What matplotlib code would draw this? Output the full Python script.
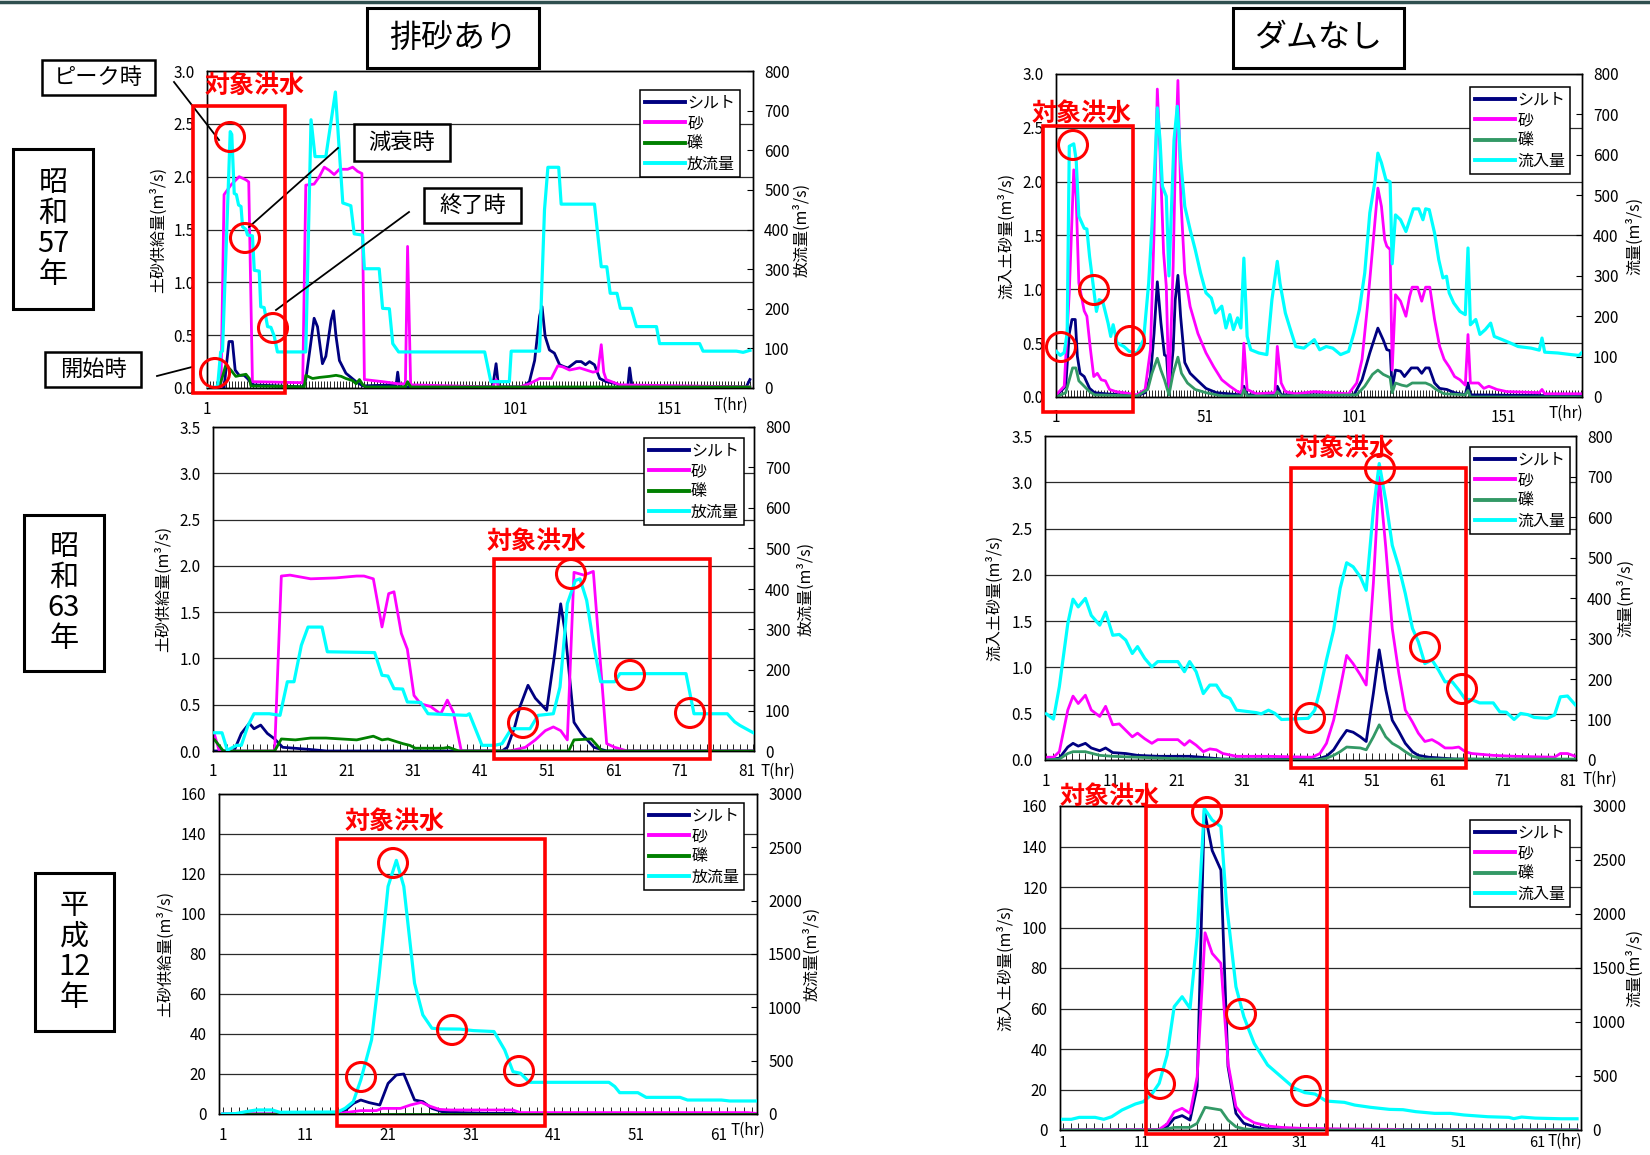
import matplotlib
matplotlib.use('Agg')
import matplotlib.pyplot as plt
from matplotlib.patches import Rectangle, Ellipse
from matplotlib.lines import Line2D
import numpy as np

plt.rcParams['font.family'] = ['Noto Sans CJK JP', 'DejaVu Sans']

# ---- data: (hour, value) pairs ----
# 昭和57年 排砂あり
TL_SILT = [(1,0),(6.5,0),(7.1,0.17),(8.1,0.44),(9.2,0.44),(10.1,0.17),(11.4,0.12),(13,0.12),(14.1,0.09),(15.7,0.03),
           (32,0.01),(33,0.08),(34.5,0.4),(35.7,0.66),(36.8,0.58),(38.4,0.23),(39.5,0.3),(41.2,0.64),(42,0.73),(42.8,0.49),
           (43.9,0.26),(46,0.14),(49.3,0.06),(51.5,0.02),(62.3,0.03),(62.8,0.15),(63.4,0.01),(93.6,0.01),(94.7,0.23),(95.5,0.01),
           (103.4,0.01),(105.5,0.06),(107.2,0.26),(108.8,0.68),(109.6,0.77),(110.6,0.49),(112,0.36),(113.6,0.33),(115.3,0.22),
           (116.9,0.2),(118,0.19),(120.7,0.25),(122.3,0.25),(123.7,0.22),(125,0.25),(126.6,0.22),(128.3,0.09),(130.4,0.06),
           (133.7,0.04),(135.3,0.01),(137.4,0.01),(138,0.19),(138.8,0.01),(175.8,0.01),(177,0.08)]
TL_SAND = [(1,0),(5.5,0),(6.5,1.83),(8.7,1.92),(11.4,2.0),(13.6,1.97),(14.5,1.95),(15.7,0.06),(32,0.05),(33,1.92),
           (35.7,1.93),(37.4,2.0),(39,2.09),(40.6,2.06),(42.2,2.02),(43.9,2.07),(46.6,2.07),(48.2,2.09),(49.8,2.05),(51.2,2.03),
           (52,0.08),(57.9,0.06),(63,0.04),(65.3,0.04),(66,1.34),(67,0.03),(93.6,0.01),(94.7,0.08),(95.5,0.01),(102.3,0.01),
           (105.5,0.04),(108.8,0.09),(112.6,0.09),(114.7,0.21),(116.3,0.2),(118.5,0.17),(121.8,0.19),(126.1,0.15),(127.7,0.16),
           (128.8,0.41),(129.6,0.15),(130.4,0.08),(134.8,0.03),(177,0.01)]
TL_GRAVEL = [(1,0),(4.9,0),(7.1,0.22),(8.7,0.17),(10.3,0.11),(11.9,0.12),(13.6,0.13),(14.7,0.09),(15.2,0.02),(32.5,0.01),
             (33,0.12),(35.2,0.09),(37.4,0.1),(40.6,0.11),(42.8,0.12),(44.5,0.11),(46,0.09),(48.2,0.07),(49.3,0.04),(50.4,0.08),
             (51.5,0.03),(52.5,0.01),(65.3,0.01),(66,0.06),(67,0.01),(177,0.01)]
TL_FLOW = [(1,0),(4.4,3),(5.4,91),(6,93),(8.5,647),(9,640),(9.8,491),(10.5,488),(11.2,462),(12,458),(12.5,407),(13.6,400),
           (14.1,386),(15.7,384),(16.3,297),(17.9,295),(18.4,205),(19.5,203),(20.6,155),(21.7,153),(22.8,130),(23.8,91),(33,91),
           (34.7,677),(36,584),(39.5,584),(42.6,747),(45,467),(47.6,460),(48.7,389),(51.4,386),(52,301),(56.8,301),(57.9,201),
           (60.1,200),(61.2,112),(63.1,91),(91,91),(93,16),(99,16),(99.6,93),(108.8,93),(110.4,450),(111.5,557),(115,557),
           (115.8,464),(126.6,464),(128.8,306),(130.6,306),(131.7,239),(133.9,239),(135,201),(138.5,201),(140.2,155),(146.7,155),
           (147.7,112),(160.7,112),(161.8,93),(172.6,93),(174.8,90),(177,95)]

# 昭和57年 ダムなし
TR_SILT = [(1,0.01),(4.2,0.1),(5.4,0.59),(6.3,0.72),(7.4,0.72),(8.1,0.38),(9,0.22),(10.4,0.19),(12.2,0.08),(13.9,0.04),
           (17.5,0.03),(28.1,0.01),(30.8,0.04),(32.6,0.19),(33.8,0.59),(34.9,1.07),(36.1,0.69),(37.3,0.39),(38,0.38),(38.8,0.04),
           (40.2,0.44),(40.9,0.9),(41.8,1.13),(42.7,0.75),(44.1,0.32),(45.9,0.22),(48.5,0.15),(51.2,0.08),(54.7,0.04),(62.6,0.02),
           (63.9,0.1),(65,0.02),(74.3,0.02),(75.1,0.1),(76.4,0.02),(100.8,0.02),(103.5,0.16),(106.1,0.41),(108.8,0.64),
           (110.6,0.53),(111.8,0.44),(112.9,0.43),(113.6,0.08),(114.7,0.25),(116.4,0.24),(117.7,0.19),(120,0.27),(122.1,0.27),
           (123.5,0.22),(124.8,0.27),(126,0.27),(127.8,0.13),(129.5,0.08),(131.9,0.07),(134.5,0.04),(138.1,0.02),(139,0.13),
           (139.8,0.02),(177,0.01)]
TR_SAND = [(1,0.02),(3.7,0.1),(5.4,0.97),(6.9,2.11),(7.7,1.86),(8.6,1.06),(10.4,0.8),(11.3,0.75),(12.5,0.44),(13.6,0.19),
           (14.8,0.22),(16.1,0.16),(17.5,0.15),(18.9,0.07),(21,0.05),(23.7,0.04),(28.1,0.02),(30.8,0.07),(32.6,0.44),(33.8,1.52),
           (34.9,2.86),(35.8,2.27),(37,1.34),(37.9,1.03),(38.8,0.04),(40.2,1.21),(40.9,2.14),(41.8,2.94),(42.8,1.83),(44.1,1.15),
           (45.9,0.84),(48.5,0.59),(51.2,0.41),(53.8,0.28),(56.5,0.16),(59.2,0.1),(61.8,0.05),(63.2,0.04),(63.9,0.5),(65,0.07),
           (68,0.03),(74.3,0.04),(75.1,0.47),(76.4,0.13),(77.8,0.05),(81.3,0.03),(87.5,0.05),(99,0.03),(101.7,0.13),(103.5,0.35),
           (105.3,0.84),(107,1.37),(108.8,1.94),(110,1.77),(111.1,1.46),(111.8,1.4),(112.9,1.37),(113.6,0.25),(114.7,0.95),
           (116.4,0.89),(118.2,0.75),(119.4,0.93),(120.3,1.02),(122.1,1.02),(123.5,0.89),(124.8,1.02),(126.2,1.02),(127.8,0.72),
           (129.5,0.47),(131,0.35),(132.7,0.28),(134.5,0.19),(136.3,0.16),(138.1,0.11),(139,0.58),(139.8,0.13),(142.5,0.13),
           (144.3,0.08),(146,0.1),(148.7,0.07),(152,0.05),(162.9,0.04),(163.8,0.07),(164.7,0.03),(177,0.03)]
TR_GRAVEL = [(1,0),(4.2,0.04),(5.4,0.16),(6.5,0.27),(7.6,0.27),(8.6,0.15),(10.4,0.1),(12.2,0.05),(13.9,0.02),(28.1,0.01),
             (31.7,0.07),(33.1,0.22),(34.9,0.36),(36.1,0.25),(37.3,0.16),(38.8,0.02),(40.2,0.22),(41.8,0.37),(43,0.22),(45,0.13),
             (47.6,0.07),(51.2,0.04),(56.5,0.01),(63.2,0.01),(63.9,0.07),(65,0.01),(74.3,0.01),(75.1,0.05),(76.4,0.01),
             (101.7,0.02),(104.4,0.1),(107,0.21),(108.8,0.25),(110.6,0.21),(112.9,0.18),(113.6,0.04),(114.7,0.13),(116.8,0.11),
             (118.5,0.1),(120.3,0.13),(122.9,0.13),(124.8,0.13),(126.5,0.11),(128.3,0.07),(131,0.03),(138.1,0.02),(139,0.06),
             (139.8,0),(177,0)]
TR_FLOW = [(1,113),(2.4,103),(3.7,110),(4.7,159),(5.4,621),(6.9,627),(7.7,588),(8.6,448),(10.4,418),(11.3,416),(12.2,348),
           (13.6,266),(14.5,212),(15.4,241),(16.6,237),(18.4,183),(19.3,150),(20.1,179),(21.4,134),(23.7,125),(25.5,113),
           (28.1,109),(30.3,142),(32,282),(33.1,423),(34.2,596),(34.9,716),(35.8,637),(36.6,522),(37.9,497),(38.8,300),
           (40.5,637),(41.6,720),(42.7,588),(44.1,472),(45.9,414),(47.6,365),(49.4,307),(51.2,258),(53,245),(54.4,208),
           (56.5,225),(57.9,171),(59.2,204),(60.4,167),(61.8,196),(62.9,171),(63.9,344),(65,150),(66.2,117),(68.9,109),
           (71.6,105),(73.3,241),(75.1,336),(76,282),(77.8,208),(79.5,167),(81.3,125),(84,121),(87.5,142),(89.3,117),
           (91.5,125),(93.7,121),(96.3,105),(99,113),(100.8,159),(102.6,216),(104.4,307),(106.1,456),(107.9,538),(108.8,604),
           (110,580),(111.5,538),(112.9,533),(113.6,330),(114.7,451),(116.4,439),(118.2,410),(119.4,437),(120.7,466),
           (122.5,466),(123.9,439),(124.8,466),(126,464),(127.8,406),(129.2,340),(130.6,295),(131.8,299),(132.7,258),
           (134.2,233),(136.3,212),(138.1,204),(139,369),(139.8,179),(141.6,192),(143,155),(144.8,167),(146.6,183),
           (147.8,150),(150.5,142),(153.1,134),(155.8,125),(160.2,121),(162.9,116),(163.8,146),(164.7,111),(169.1,109),
           (173.5,105),(176.2,103),(177,109)]

# 昭和63年 排砂あり
ML_SILT = [(1.2,0),(4.1,0),(5.2,0.19),(6.4,0.3),(7.1,0.24),(8.1,0.28),(9.1,0.19),(10.2,0.13),(11.4,0.04),(14.9,0.02),(18,0),
           (44.3,0),(45.1,0.04),(46.2,0.26),(47,0.48),(48.2,0.71),(49.3,0.57),(51,0.44),(52.2,1.05),(53.1,1.59),(53.8,1.27),
           (55.1,0.31),(56.2,0.19),(58.1,0.04),(60,0),(82,0)]
ML_SAND = [(1.2,0.17),(1.9,0),(10.2,0),(11.2,1.89),(12.5,1.9),(15.6,1.86),(19.4,1.87),(22.5,1.89),(23.6,1.89),(25,1.86),
           (26.3,1.34),(27.3,1.7),(28.1,1.72),(29.2,1.27),(30.1,1.1),(31.1,0.6),(32.1,0.51),(33.6,0.48),(35.1,0.4),(36.1,0.55),
           (37,0.42),(38.2,0),(45.5,0),(47.8,0.04),(49.3,0.12),(50.8,0.22),(52,0.26),(53.1,0.22),(54.1,0.12),(55.1,1.93),
           (56.6,1.9),(58,1.94),(60,0.08),(61.2,0.04),(63.1,0),(82,0)]
ML_GRAVEL = [(1.2,0.12),(2.5,0),(10.2,0),(11.2,0.13),(13.3,0.12),(15.6,0.14),(17.9,0.14),(20.2,0.13),(22.5,0.12),(25,0.16),
             (26.3,0.12),(27.2,0.13),(29.4,0.08),(30.5,0.06),(31.3,0.03),(35.5,0.03),(36.3,0.04),(37.8,0),(54.3,0),(55.1,0.12),
             (57.7,0.13),(59.3,0),(82,0)]
ML_FLOW = [(1.2,45),(2.3,45),(3.1,2),(4.5,14),(5.2,14),(6.2,63),(7.1,92),(9.4,92),(11,88),(12.1,171),(13.1,171),(14.2,261),
           (15.2,306),(17.3,306),(18.1,245),(25.2,243),(26.3,187),(27.2,185),(28.1,154),(29.4,153),(30.1,121),(32.1,120),
           (33.2,92),(36.1,90),(39,88),(39.4,92),(41.3,14),(43.2,14),(44.3,18),(45.7,55),(48.5,55),(49.7,88),(52,92),(53,158),
           (54.1,364),(55.3,421),(56,425),(57,372),(58.1,257),(59.1,171),(61.2,171),(62,191),(71.9,191),(73.1,92),(78.1,92),
           (79.2,72),(80,63),(82,45)]

# 昭和63年 ダムなし
MR_SILT = [(1,0),(3,0.02),(4.3,0.14),(5.1,0.18),(5.9,0.15),(7,0.18),(7.9,0.13),(9.2,0.1),(10.1,0.13),(11.2,0.08),(13.2,0.07),
           (15,0.05),(18.1,0.04),(23,0.04),(28.1,0.01),(42.6,0.01),(44,0.04),(45.1,0.11),(46.1,0.22),(47.1,0.32),(48.1,0.3),
           (49.2,0.25),(50.1,0.2),(51.2,0.72),(52.1,1.19),(53.1,0.76),(54.1,0.43),(55.1,0.31),(56.1,0.18),(57.2,0.09),(58.1,0.05),
           (59.7,0.03),(63.8,0.01),(82.2,0)]
MR_SAND = [(1,0.03),(2.1,0.03),(3,0.09),(4.3,0.54),(5.1,0.69),(5.9,0.61),(7,0.7),(7.9,0.54),(9.2,0.47),(10.1,0.58),(11.2,0.38),
           (12.2,0.39),(13.2,0.32),(14.2,0.25),(15,0.29),(16.1,0.23),(17.2,0.18),(18.1,0.22),(21.2,0.22),(22.2,0.16),(23,0.21),
           (24,0.16),(25.1,0.09),(26.1,0.12),(27.1,0.11),(28.1,0.07),(30.2,0.04),(35.1,0.04),(41.8,0.03),(43,0.07),(44,0.18),
           (45.1,0.43),(46.1,0.77),(47.1,1.13),(48.1,1.04),(49.2,0.92),(50.1,0.81),(51.2,1.91),(52.1,3.06),(53.1,2.3),(54.1,1.42),
           (55.1,0.94),(56.1,0.54),(57.2,0.41),(58.1,0.29),(59.1,0.2),(60.2,0.22),(61.2,0.18),(62.2,0.13),(63.3,0.13),(64.3,0.14),
           (65.3,0.09),(66.3,0.07),(69.6,0.05),(72.8,0.04),(79,0.03),(79.9,0.07),(81,0.07),(82.2,0.04)]
MR_GRAVEL = [(1,0),(3,0.01),(4.3,0.07),(5.1,0.09),(7,0.09),(9.2,0.05),(11.2,0.04),(14.9,0.03),(23,0.01),(42.6,0),(44,0.02),
             (45.1,0.05),(46.1,0.09),(47.1,0.14),(49.2,0.13),(50.1,0.11),(51.2,0.25),(52.1,0.38),(53.1,0.25),(54.1,0.18),
             (55.1,0.14),(56.1,0.09),(57.2,0.04),(59,0.01),(82.2,0.01)]
MR_FLOW = [(1,114),(2.1,101),(3,181),(4.3,337),(5.1,397),(5.9,378),(7,399),(7.9,357),(9.2,333),(10.1,365),(11.2,308),
           (12.2,310),(13.2,296),(14.2,263),(15,280),(16.1,251),(17.2,230),(18.1,243),(21.2,243),(22.2,218),(23,243),(24,218),
           (25.1,164),(26.1,185),(27.1,185),(28.1,160),(29.2,152),(30.2,123),(31.2,121),(33.2,117),(34,114),(35.1,123),
           (36.1,115),(37.1,100),(41.2,103),(42.2,123),(43,173),(44,247),(45.1,321),(46.1,424),(47.1,487),(48.1,477),
           (49.2,452),(50.1,419),(51.2,617),(52.1,732),(53.1,641),(54.1,530),(55.1,477),(56.1,411),(57.2,325),(58.1,292),
           (59.1,238),(60.2,247),(61.2,222),(62.2,193),(63.3,193),(64.3,173),(65.3,150),(66.3,149),(67.5,141),(69.6,141),
           (70.6,119),(71.6,118),(72.8,100),(73.8,115),(74.9,112),(75.9,105),(77.9,103),(79,111),(79.9,156),(81,158),(82.2,136)]

# 平成12年 排砂あり
BL_SILT = [(1,0),(15,0),(15.5,0.7),(16.8,5.3),(17.7,7),(18.7,5.7),(20,4.5),(21,15.3),(22,19.5),(22.9,20),(24.2,7),
           (25.2,6.2),(26.3,2.8),(27.5,1.2),(29.7,0.7),(33,0.3),(65.5,0.3)]
BL_SAND = [(1,0),(15,0),(15.8,0.7),(17.7,1.7),(19.6,1.7),(20.3,2.8),(22.5,2.8),(23.7,4.5),(25,5.8),(26,4),(27.2,2.3),
           (28.5,2),(36.1,2),(37,0.7),(64.5,0.7),(65.5,0.3)]
BL_GRAVEL = [(1,0.1),(65.5,0.1)]
BL_FLOW = [(1,0),(2.6,4),(3.8,22),(5.1,38),(7,38),(7.9,16),(14.9,19),(15.8,53),(16.8,116),(17.7,319),(19,694),(19.9,1289),
           (21,2134),(22,2378),(22.9,2134),(24.2,1226),(25.2,929),(26.3,804),(27.2,798),(29.7,796),(31.3,782),(33.8,773),
           (35.1,600),(36.1,397),(37,382),(38.1,297),(47.7,297),(48.4,258),(49,200),(51.2,200),(52.2,156),(56.3,156),
           (57.2,131),(61.3,131),(62.3,122),(65.5,122)]

# 平成12年 ダムなし
BR_SILT = [(1,0),(13.2,0),(14.2,1.6),(15.1,5.8),(16.1,7.1),(17.1,4.9),(18,21.4),(18.9,158),(19.9,138),(21,128.4),
           (21.9,31.3),(22.9,8.2),(23.9,3.3),(25.2,1.6),(26.5,0.6),(28.6,0.3),(66,0)]
BR_SAND = [(1,0),(13.2,0.3),(14.2,3),(15.1,9),(16.1,10.7),(17.1,8.2),(18,26.3),(19,97.4),(19.9,87.2),(21,82.3),(21.9,32.9),
           (22.9,11.5),(23.9,6.6),(25.2,3.6),(26.9,2),(28.6,1.3),(31.3,0.8),(37,0.5),(43.3,0.3),(44,0),(66,0)]
BR_GRAVEL = [(1,0),(13.5,0),(15.1,1.3),(17.1,1.3),(18,3.3),(19,11.2),(21,9.9),(21.9,4.9),(22.9,1.6),(23.9,0.6),(25.2,0.2),
             (26,0),(66,0)]
BR_FLOW = [(1,99),(2.1,99),(3.1,117),(5.1,117),(6.2,99),(7.2,123),(8.5,185),(10.2,241),(11.2,262),(12.2,324),(13.2,432),
           (14.2,694),(15.1,1142),(16.1,1234),(17.1,1127),(18,1790),(18.9,2978),(19.9,2870),(21,2809),(21.7,2099),(22.9,1327),
           (23.9,1049),(25.2,802),(26.9,602),(28.6,494),(30.3,386),(31.6,346),(32.9,333),(34.3,268),(36.6,256),(37.9,231),
           (39.9,210),(42.3,191),(44,188),(45.6,170),(48,154),(50,154),(51.7,139),(54.7,123),(57.4,117),(58,105),(59,120),
           (60.7,110),(64,104),(66,104)]

SERIES_NAMES = ['シルト', '砂', '礫']
COL_TITLES = ['排砂あり', 'ダムなし']
ROW_TITLES = ['昭\n和\n57\n年', '昭\n和\n63\n年', '平\n成\n12\n年']

# ---- figure in pixel units ----
W, H = 1650, 1155
fig = plt.figure(figsize=(W / 100, H / 100), dpi=100)


def fx(x):
    return x / W


def fy(y):
    return 1 - y / H


def frame(x0, y0, x1, y1, color='black', lw=1.6, fill=None):
    fig.patches.append(Rectangle((fx(x0), fy(y1)), (x1 - x0) / W, (y1 - y0) / H, transform=fig.transFigure,
                                 fill=fill is not None, fc=fill or 'none', ec=color, lw=lw, zorder=5))


def ring(cx, cy, d=29):
    fig.patches.append(Ellipse((fx(cx), fy(cy)), d / W, d / H, transform=fig.transFigure,
                               fill=False, ec='#FF0000', lw=2.2, zorder=6))


def draw_panel(rect, xlim, xticks, ymax, ystep, yfmt, qmax, qstep, silt, sand, gravel, flow,
               gcol, flow_name, ylabel, qlabel, leg_anchor, ylab_x, qlab_x, thr, xpad=9, xsize=11):
    l, t, r, b = rect
    ax = fig.add_axes([fx(l), fy(b), (r - l) / W, (b - t) / H])
    ax2 = ax.twinx()
    for ser, c in ((silt, '#000080'), (sand, '#FF00FF'), (gravel, gcol)):
        h, v = zip(*ser)
        ax.plot(h, v, color=c, lw=2.0, zorder=3)
    h, q = zip(*flow)
    ax2.plot(h, q, color='#00FFFF', lw=2.3, zorder=3)
    ax.set_xlim(*xlim)
    ax.set_ylim(0, ymax)
    ax2.set_ylim(0, qmax)
    ax.set_yticks(np.arange(0, ymax + 1e-9, ystep))
    ax.set_yticklabels([yfmt.format(v) for v in np.arange(0, ymax + 1e-9, ystep)])
    ax2.set_yticks(np.arange(0, qmax + 1, qstep))
    ax.set_xticks(xticks)
    ax.set_xticks(np.arange(1, int(xlim[1]) + 1), minor=True)
    ax.yaxis.grid(True, color='#2a2a2a', lw=0.9)
    ax.tick_params(axis='y', length=0, pad=9, labelsize=11)
    ax.tick_params(axis='x', which='major', direction='in', length=5, pad=xpad, labelsize=xsize, width=0.6)
    ax.tick_params(axis='x', which='minor', direction='in', length=5, width=0.6)
    ax2.tick_params(axis='y', direction='in', length=4, pad=8, labelsize=11)
    for a in (ax, ax2):
        for s in a.spines.values():
            s.set_linewidth(1.0)
    handles = [Line2D([], [], color=c, lw=2.8) for c in ('#000080', '#FF00FF', gcol, '#00FFFF')]
    leg = ax2.legend(handles, SERIES_NAMES + [flow_name], loc='upper right', bbox_to_anchor=leg_anchor,
                     fancybox=False, edgecolor='black', framealpha=1, fontsize=11.5, handlelength=2.5,
                     handletextpad=0.15, borderpad=0.3, labelspacing=0.2, borderaxespad=0)
    leg.get_frame().set_linewidth(1.1)
    fig.text(fx(ylab_x), fy((t + b) / 2), ylabel, rotation=90, ha='center', va='center', fontsize=11.5)
    fig.text(fx(qlab_x), fy((t + b) / 2), qlabel, rotation=90, ha='center', va='center', fontsize=11.5)
    fig.text(fx(thr[0]), fy(thr[1]), 'T(hr)', ha='center', va='center', fontsize=11)


LEFT_Y = '土砂供給量(m³/s)'
LEFT_Q = '放流量(m³/s)'
RIGHT_Y = '流入土砂量(m³/s)'
RIGHT_Q = '流量(m³/s)'
G_LEFT = '#008000'
G_RIGHT = '#339966'

draw_panel((207, 71, 753, 388), (0.97, 178), [1, 51, 101, 151], 3.0, 0.5, '{:.1f}', 800, 100,
           TL_SILT, TL_SAND, TL_GRAVEL, TL_FLOW, G_LEFT, '放流量', LEFT_Y, LEFT_Q, (0.976, 0.94), 158, 802, (731, 405))
draw_panel((1056, 74, 1582, 397), (0.95, 177.2), [1, 51, 101, 151], 3.0, 0.5, '{:.1f}', 800, 100,
           TR_SILT, TR_SAND, TR_GRAVEL, TR_FLOW, G_RIGHT, '流入量', RIGHT_Y, RIGHT_Q, (0.977, 0.96), 1007, 1635, (1566, 413))
draw_panel((213, 427, 754, 751), (0.95, 82.1), list(range(1, 82, 10)), 3.5, 0.5, '{:.1f}', 800, 100,
           ML_SILT, ML_SAND, ML_GRAVEL, ML_FLOW, G_LEFT, '放流量', LEFT_Y, LEFT_Q, (0.981, 0.966), 163, 806, (778, 771))
draw_panel((1045, 436, 1576, 760), (0.8, 82.3), list(range(1, 82, 10)), 3.5, 0.5, '{:.1f}', 800, 100,
           MR_SILT, MR_SAND, MR_GRAVEL, MR_FLOW, G_RIGHT, '流入量', RIGHT_Y, RIGHT_Q, (0.989, 0.966), 995, 1626, (1600, 779))
draw_panel((219, 794, 757, 1114), (0.56, 65.6), list(range(1, 62, 10)), 160, 20, '{:.0f}', 3000, 500,
           BL_SILT, BL_SAND, BL_GRAVEL, BL_FLOW, G_LEFT, '放流量', LEFT_Y, LEFT_Q, (0.976, 0.972), 165, 812, (748, 1130))
draw_panel((1060, 806, 1581, 1130), (0.67, 66.5), list(range(1, 62, 10)), 160, 20, '{:.0f}', 3000, 500,
           BR_SILT, BR_SAND, BR_GRAVEL, BR_FLOW, G_RIGHT, '流入量', RIGHT_Y, RIGHT_Q, (0.979, 0.957), 1006, 1635, (1565, 1141),
           xpad=4, xsize=10.5)

# top rule
fig.add_artist(Line2D([0, 1], [fy(1.5), fy(1.5)], transform=fig.transFigure, color='#2F4F4F', lw=2.5))

# column titles
for title, (x0, x1) in zip(COL_TITLES, [(367, 539), (1233, 1404)]):
    frame(x0, 8, x1, 68, lw=2.2, fill='white')
    fig.text(fx((x0 + x1) / 2), fy(38), title, ha='center', va='center', fontsize=23, zorder=7)

# row titles
for title, (x0, y0, x1, y1) in zip(ROW_TITLES, [(13, 149, 93, 309), (24, 515, 104, 671), (35, 873, 114, 1031)]):
    frame(x0, y0, x1, y1, lw=2.2, fill='white')
    fig.text(fx((x0 + x1) / 2), fy((y0 + y1) / 2), title, ha='center', va='center', fontsize=21,
             linespacing=1.04, zorder=7)

# callouts on the first panel
CALLOUTS = [('ピーク時', (42, 60, 155, 95), (174, 82), (219, 140)),
            ('減衰時', (354, 124, 450, 161), (338, 148), (249, 227)),
            ('終了時', (424, 188, 521, 223), (409, 212), (276, 310)),
            ('開始時', (45, 352, 141, 387), (157, 376), (192, 367))]
for txt, (x0, y0, x1, y1), p0, p1 in CALLOUTS:
    fig.add_artist(Line2D([fx(p0[0]), fx(p1[0])], [fy(p0[1]), fy(p1[1])], transform=fig.transFigure,
                          color='black', lw=1.3, zorder=5))
    frame(x0, y0, x1, y1, lw=1.8, fill='white')
    fig.text(fx((x0 + x1) / 2), fy((y0 + y1) / 2), txt, ha='center', va='center', fontsize=16, zorder=7)

# target flood frames, labels and marked points
TARGETS = [((193, 106, 285, 393), (205, 86), [(230, 137), (245, 238), (273, 328), (215, 373)]),
           ((1043, 126, 1133, 412), (1032, 114), [(1073, 145), (1094, 290), (1061, 347), (1130, 341)]),
           ((494, 559, 710, 759), (487, 542), [(571, 574), (523, 723), (630, 675), (690, 713)]),
           ((1291, 468, 1466, 768), (1295, 449), [(1380, 469), (1310, 718), (1425, 647), (1462, 689)]),
           ((337, 839, 545, 1126), (345, 822), [(393, 863), (361, 1077), (452, 1030), (519, 1071)]),
           ((1146, 806, 1327, 1134), (1060, 797), [(1207, 812), (1160, 1084), (1241, 1014), (1306, 1091)])]
for (x0, y0, x1, y1), (tx, ty), rings in TARGETS:
    frame(x0, y0, x1, y1, color='#FF0000', lw=2.6)
    fig.text(fx(tx), fy(ty), '対象洪水', ha='left', va='center', fontsize=18, fontweight='bold',
             color='#FF0000', zorder=7)
    for cx, cy in rings:
        ring(cx, cy)

fig.savefig('out.png', dpi=100)
